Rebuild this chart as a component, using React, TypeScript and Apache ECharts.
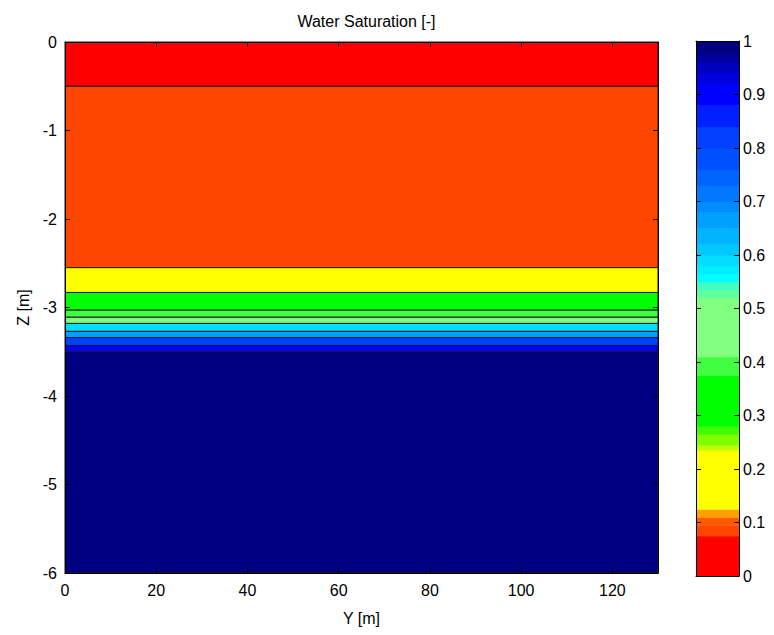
import React, { useEffect, useRef } from "react";
import * as echarts from "echarts";

// Horizontal extent (Y, m)
const yMin = 0;
const yMax = 130;

// Layers of the saturation field (Z, m), top to bottom
const layerTop = [0, -0.5, -2.55, -2.83, -3.03, -3.11, -3.18, -3.27, -3.34, -3.43, -3.5];
const layerBottom = [-0.5, -2.55, -2.83, -3.03, -3.11, -3.18, -3.27, -3.34, -3.43, -3.5, -6];
const layerSw = [0.05, 0.085, 0.18, 0.33, 0.39, 0.46, 0.59, 0.66, 0.82, 0.9, 0.99];

// Colormap (value band -> colour)
const cmapLow = [0, 0.075, 0.095, 0.11, 0.125, 0.235, 0.245, 0.265, 0.28, 0.375, 0.41, 0.52, 0.535, 0.55, 0.565, 0.58, 0.6, 0.62, 0.65, 0.68, 0.7, 0.73, 0.76, 0.8, 0.84, 0.88, 0.92, 0.94, 0.96, 0.975];
const cmapHigh = [0.075, 0.095, 0.11, 0.125, 0.235, 0.245, 0.265, 0.28, 0.375, 0.41, 0.52, 0.535, 0.55, 0.565, 0.58, 0.6, 0.62, 0.65, 0.68, 0.7, 0.73, 0.76, 0.8, 0.84, 0.88, 0.92, 0.94, 0.96, 0.975, 1];
const cmapColor = ["#FF0000", "#FF4600", "#FF5A00", "#FFA000", "#FFFF00", "#C0FF00", "#80FF00", "#40FF00", "#00FF00", "#40FF40", "#80FF80", "#60FFA0", "#40FFC0", "#00FFFF", "#00EEFF", "#00DDFF", "#00C8FF", "#00B4FF", "#00A0FF", "#008CFF", "#0078FF", "#0064FF", "#0050FF", "#0040FF", "#0020FF", "#0000FF", "#0000E0", "#0000C0", "#0000A0", "#000080"];

const xTickInterval = 20;
const zTickInterval = 1;
const cbTickInterval = 0.1;

const FONT = "Liberation Sans, Arial, sans-serif";

function colorFor(v: number): string {
  for (let i = 0; i < cmapLow.length; i++) {
    if (v >= cmapLow[i] && v < cmapHigh[i]) return cmapColor[i];
  }
  return cmapColor[cmapColor.length - 1];
}

export default function App() {
  const ref = useRef<HTMLDivElement>(null);
  useEffect(() => {
    if (!ref.current) return;
    const chart = echarts.init(ref.current, null, { renderer: "svg" });
    const layerData = layerTop.map((t, i) => [t, layerBottom[i], layerSw[i]]);
    const cbData = cmapLow.map((l, i) => [l, cmapHigh[i], i]);
    const labelStyle = { color: "#000", fontSize: 16, fontFamily: FONT };
    const lineStyle = { color: "#000", width: 1 };
    const plotLeft = 65, plotTop = 42, plotW = 593, plotH = 531;
    const option: any = {
      animation: false,
      backgroundColor: "#fff",
      title: {
        text: "Water Saturation [-]",
        left: plotLeft + plotW / 2,
        top: 8,
        textAlign: "center",
        textStyle: { fontSize: 16, fontWeight: "normal", color: "#000", fontFamily: FONT },
      },
      grid: [
        { left: plotLeft, top: plotTop, width: plotW, height: plotH },
        { left: 696, top: 41, width: 43, height: 535 },
      ],
      xAxis: [
        {
          gridIndex: 0, type: "value", min: yMin, max: yMax, interval: xTickInterval, position: "bottom",
          name: "Y [m]", nameLocation: "middle", nameGap: 37,
          nameTextStyle: { ...labelStyle },
          axisLine: { show: true, onZero: false, lineStyle },
          axisTick: { show: true, inside: true, length: 5, lineStyle },
          axisLabel: { ...labelStyle, margin: 9, showMaxLabel: false },
          splitLine: { show: false }, z: 10,
        },
        {
          gridIndex: 0, type: "value", min: yMin, max: yMax, interval: xTickInterval, position: "top",
          axisLine: { show: true, onZero: false, lineStyle },
          axisTick: { show: true, inside: true, length: 5, lineStyle },
          axisLabel: { show: false }, splitLine: { show: false }, z: 10,
        },
        {
          gridIndex: 1, type: "value", min: 0, max: 1, position: "bottom",
          axisLine: { show: true, onZero: false, lineStyle },
          axisTick: { show: false }, axisLabel: { show: false }, splitLine: { show: false }, z: 10,
        },
        {
          gridIndex: 1, type: "value", min: 0, max: 1, position: "top",
          axisLine: { show: true, onZero: false, lineStyle },
          axisTick: { show: false }, axisLabel: { show: false }, splitLine: { show: false }, z: 10,
        },
      ],
      yAxis: [
        {
          gridIndex: 0, type: "value", min: -6, max: 0, interval: zTickInterval, position: "left",
          name: "Z [m]", nameLocation: "middle", nameGap: 32,
          nameTextStyle: { ...labelStyle },
          axisLine: { show: true, onZero: false, lineStyle },
          axisTick: { show: true, inside: true, length: 5, lineStyle },
          axisLabel: { ...labelStyle, margin: 8 },
          splitLine: { show: false }, z: 10,
        },
        {
          gridIndex: 0, type: "value", min: -6, max: 0, interval: zTickInterval, position: "right",
          axisLine: { show: true, onZero: false, lineStyle },
          axisTick: { show: true, inside: true, length: 5, lineStyle },
          axisLabel: { show: false }, splitLine: { show: false }, z: 10,
        },
        {
          gridIndex: 1, type: "value", min: 0, max: 1, interval: cbTickInterval, position: "right",
          axisLine: { show: true, onZero: false, lineStyle },
          axisTick: { show: true, inside: true, length: 5, lineStyle },
          axisLabel: { ...labelStyle, margin: 4, formatter: (v: number) => String(+v.toFixed(1)) },
          splitLine: { show: false }, z: 10,
        },
        {
          gridIndex: 1, type: "value", min: 0, max: 1, interval: cbTickInterval, position: "left",
          axisLine: { show: true, onZero: false, lineStyle },
          axisTick: { show: true, inside: true, length: 5, lineStyle },
          axisLabel: { show: false }, splitLine: { show: false }, z: 10,
        },
      ],
      series: [
        {
          type: "custom",
          xAxisIndex: 0,
          yAxisIndex: 0,
          data: layerData,
          renderItem: (params: any, api: any) => {
            const p1 = api.coord([yMin, api.value(0)]);
            const p2 = api.coord([yMax, api.value(1)]);
            return {
              type: "rect",
              shape: { x: p1[0], y: p1[1], width: p2[0] - p1[0], height: p2[1] - p1[1] },
              style: { fill: colorFor(api.value(2)), stroke: "#1a1a1a", lineWidth: 1 },
            };
          },
        },
        {
          type: "custom",
          xAxisIndex: 2,
          yAxisIndex: 2,
          data: cbData,
          renderItem: (params: any, api: any) => {
            const p1 = api.coord([0, api.value(1)]);
            const p2 = api.coord([1, api.value(0)]);
            return {
              type: "rect",
              shape: { x: p1[0], y: p1[1], width: p2[0] - p1[0], height: p2[1] - p1[1] + 0.5 },
              style: { fill: cmapColor[api.value(2)] },
            };
          },
        },
      ],
    };
    chart.setOption(option);
    return () => chart.dispose();
  }, []);
  return (
    <div
      ref={ref}
      style={{ position: "absolute", left: 0, top: 0, width: 774, height: 635 }}
    />
  );
}
